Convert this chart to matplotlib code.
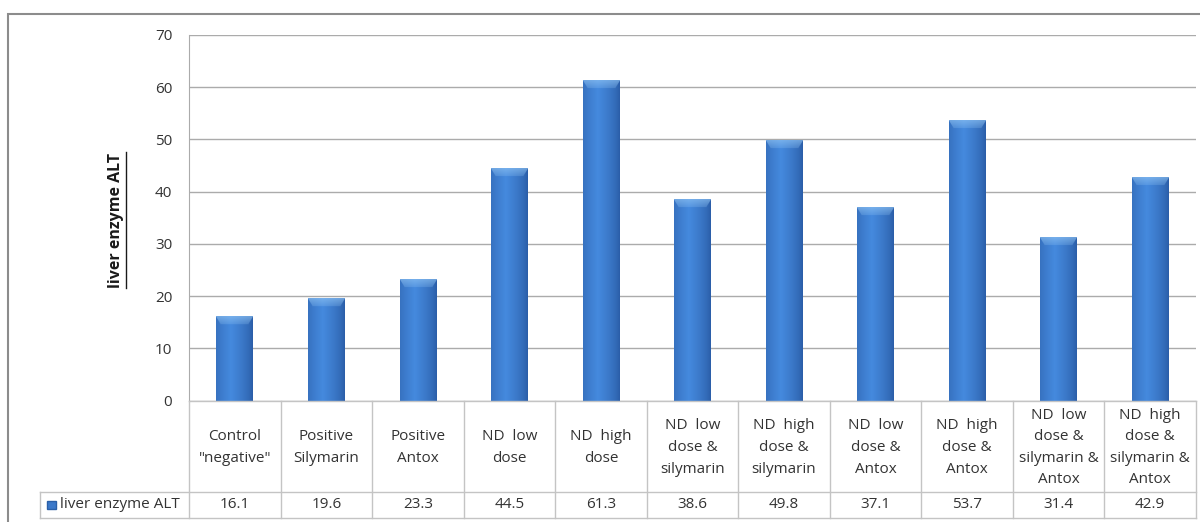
import numpy as np
import matplotlib.pyplot as plt
from matplotlib.patches import Rectangle
from matplotlib.lines import Line2D

# ---------------- DATA ---------------- #

groups = [
    'Control\n"negative"',
    'Positive\nSilymarin',
    'Positive\nAntox',
    'ND  low\ndose',
    'ND  high\ndose',
    'ND  low\ndose &\nsilymarin',
    'ND  high\ndose &\nsilymarin',
    'ND  low\ndose &\nAntox',
    'ND  high\ndose &\nAntox',
    'ND  low\ndose &\nsilymarin &\nAntox',
    'ND  high\ndose &\nsilymarin &\nAntox',
]
alt_values = [16.1, 19.6, 23.3, 44.5, 61.3, 38.6, 49.8, 37.1, 53.7, 31.4, 42.9]
series_name = "liver enzyme ALT"
y_ticks = [0, 10, 20, 30, 40, 50, 60, 70]

# ---------------- STYLE ---------------- #

plt.rcParams['font.family'] = ['Open Sans', 'DejaVu Sans']
txt_color = '#333333'
grid_color = '#ababab'
table_color = '#c4c4c4'

W, H = 1200, 522
fig = plt.figure(figsize=(W / 100, H / 100), dpi=100)

# outer chart border
fig.patches.append(Rectangle((8 / W, -0.05), 1.2, 1 - 14 / H + 0.05,
                             transform=fig.transFigure, fill=False,
                             edgecolor='#8c8c8c', linewidth=1.5))

# plot area
px0, px1, py_top, py_zero, py_bot = 189, 1196, 35, 400.5, 518
ax = fig.add_axes([px0 / W, 1 - py_zero / H, (px1 - px0) / W, (py_zero - py_top) / H])
n = len(groups)
x = np.arange(n) + 0.5

bars = ax.bar(x, alt_values, width=0.4, color='#3b78c9', zorder=3)

# excel-ish shading on the bars
cols = 60
t = np.linspace(0, 1, cols)
prof = np.clip(1 - np.abs(t - 0.4) * 1.7, 0, 1) ** 0.7
dark = np.array([0.17, 0.37, 0.66])
light = np.array([0.27, 0.54, 0.87])
row = dark + (light - dark) * prof[:, None]
for b in bars:
    bx, bw, bh = b.get_x(), b.get_width(), b.get_height()
    rows = max(int(bh * 5.2), 2)
    img = np.repeat(row[None, :, :], rows, axis=0).copy()
    cap = min(8, rows)
    for k in range(cap):
        inset = int(cols * 0.12 * (k + 1) / cap)
        f = 0.4 * (1 - k / cap) + 0.2
        img[k, inset:cols - inset] = img[k, inset:cols - inset] * (1 - f) + np.array([0.58, 0.78, 0.96]) * f
    im = ax.imshow(img, extent=(bx, bx + bw, 0, bh), aspect='auto', zorder=4,
                   interpolation='bilinear')
    im.set_clip_path(b)

ax.set_xlim(0, n)
ax.set_ylim(0, 70)
ax.set_yticks(y_ticks)
ax.set_xticks([])
ax.tick_params(axis='y', length=0, pad=12, labelsize=11, labelcolor=txt_color)
ax.yaxis.grid(True, color=grid_color, linewidth=1, zorder=0)
ax.set_axisbelow(True)
for side in ['top', 'right', 'bottom']:
    ax.spines[side].set_visible(False)
ax.spines['left'].set_color(grid_color)

ylab = fig.text(116 / W, 1 - 220 / H, series_name, rotation=90, ha='center', va='center',
                fontsize=11.5, fontweight='bold', color='#1a1a1a')

# ---------------- DATA TABLE ---------------- #

tax = fig.add_axes([px0 / W, 1 - py_bot / H, (px1 - px0) / W, (py_bot - py_zero) / H])
tax.set_xlim(0, n)
tax.set_ylim(0, 1)
tax.axis('off')

split = (py_bot - 492) / (py_bot - py_zero)
leg_left = (40 - px0) / ((px1 - px0) / n)

lk = dict(color=table_color, linewidth=1, clip_on=False)
tax.plot([0, n], [1, 1], **lk)
tax.plot([leg_left, n], [split, split], **lk)
tax.plot([leg_left, n], [0, 0], **lk)
tax.plot([leg_left, leg_left], [0, split], **lk)
for i in range(n + 1):
    tax.plot([i, i], [0, 1], **lk)

for i, (g, v) in enumerate(zip(groups, alt_values)):
    tax.text(i + 0.5, (1 + split) / 2 - 0.01, g, ha='center', va='center', fontsize=11,
             color=txt_color, linespacing=1.6)
    tax.text(i + 0.5, split / 2, f"{v:.1f}", ha='center', va='center', fontsize=11,
             color=txt_color)

# legend key in the table
tax.add_patch(Rectangle((leg_left + 0.08, split / 2 - 0.035), 0.1, 0.07,
                        facecolor='#3b78c9', edgecolor='#2a5fa8', clip_on=False))
tax.text(leg_left + 0.22, split / 2, series_name, ha='left', va='center',
         fontsize=11, color=txt_color)

# underline the axis title
fig.canvas.draw()
bb = ylab.get_window_extent().transformed(fig.transFigure.inverted())
fig.add_artist(Line2D([bb.x1 + 1.5 / W, bb.x1 + 1.5 / W], [bb.y0, bb.y1],
                      transform=fig.transFigure, color='#1a1a1a', linewidth=1))

fig.savefig("out.png", dpi=100)
